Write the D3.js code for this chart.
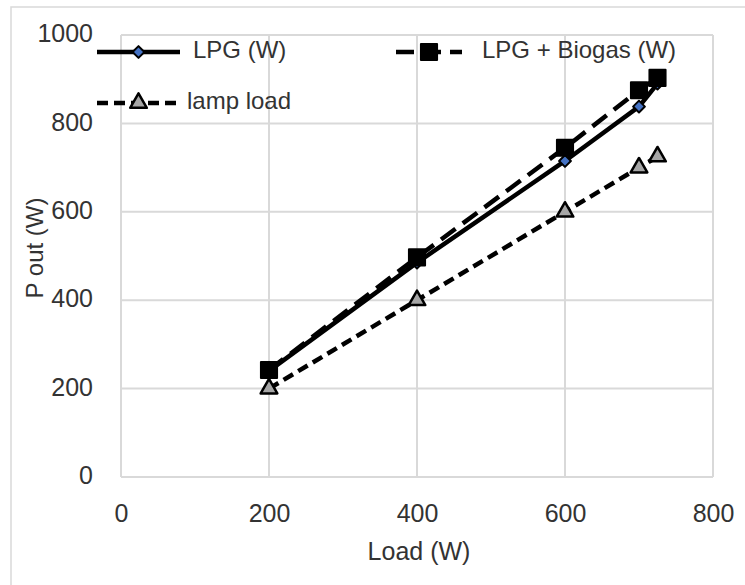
<!DOCTYPE html>
<html>
<head>
<meta charset="utf-8">
<script src="https://cdn.jsdelivr.net/npm/d3@7"></script>
<style>
  html, body { margin: 0; padding: 0; background: #fff; }
  svg { display: block; }
  text { font-family: "Liberation Sans", Arial, sans-serif; fill: #333; }
</style>
</head>
<body>
<svg id="chart" width="745" height="585"></svg>
<script>
// ---- data ----
const loads   = [200, 400, 600, 700, 725];
const lpg     = [240, 485, 715, 838, 890];
const biogas  = [242, 497, 745, 875, 903];
const lamp    = [200, 400, 600, 700, 725];
const seriesNames = ["LPG (W)", "LPG + Biogas (W)", "lamp load"];
const xTicks = [0, 200, 400, 600, 800];
const yTicks = [0, 200, 400, 600, 800, 1000];
const xTitle = "Load (W)";
const yTitle = "P out (W)";

// ---- layout ----
const svg = d3.select("#chart");
const x = d3.scaleLinear().domain([0, 800]).range([121, 713]);
const y = d3.scaleLinear().domain([0, 1000]).range([477, 35]);
const fmt = d3.format("d");

// chart frame (extends beyond the visible area)
svg.append("rect")
  .attr("x", 11).attr("y", 7).attr("width", 800).attr("height", 700)
  .attr("fill", "none").attr("stroke", "#d9d9d9").attr("stroke-width", 1.5);

// gridlines
const grid = svg.append("g");
grid.selectAll("line.v").data(xTicks).enter().append("line")
  .attr("x1", d => x(d)).attr("x2", d => x(d))
  .attr("y1", y(0)).attr("y2", y(1000))
  .attr("stroke", "#d9d9d9").attr("stroke-width", 2);
grid.selectAll("line.h").data(yTicks).enter().append("line")
  .attr("y1", d => y(d)).attr("y2", d => y(d))
  .attr("x1", x(0)).attr("x2", x(800))
  .attr("stroke", "#d9d9d9").attr("stroke-width", 2);

// axes (labels only)
const xAxis = d3.axisBottom(x).tickValues(xTicks).tickFormat(fmt).tickSize(0).tickPadding(0);
const gx = svg.append("g").attr("transform", `translate(0,${y(0)})`).call(xAxis);
gx.select(".domain").remove();
gx.selectAll("text").attr("dy", null).attr("y", 38)
  .attr("dominant-baseline", "middle")
  .style("font-size", "25px").style("font-family", "'Liberation Sans', Arial, sans-serif")
  .attr("fill", "#333");

const yAxis = d3.axisLeft(y).tickValues(yTicks).tickFormat(fmt).tickSize(0).tickPadding(0);
const gy = svg.append("g").attr("transform", `translate(93,0)`).call(yAxis);
gy.select(".domain").remove();
gy.selectAll("text").attr("dy", null).attr("x", 0)
  .attr("dominant-baseline", "middle")
  .style("font-size", "25px").style("font-family", "'Liberation Sans', Arial, sans-serif")
  .attr("fill", "#333");

// axis titles
svg.append("text").attr("x", 419).attr("y", 553)
  .attr("text-anchor", "middle").attr("dominant-baseline", "middle")
  .style("font-size", "25px").text(xTitle);
svg.append("text")
  .attr("transform", "translate(37,248) rotate(-90)")
  .attr("text-anchor", "middle").attr("dominant-baseline", "middle")
  .style("font-size", "24px").text(yTitle);

// ---- series ----
const line = d3.line().x(d => x(d[0])).y(d => y(d[1]));
const sLpg = loads.map((l, i) => [l, lpg[i]]);
const sBio = loads.map((l, i) => [l, biogas[i]]);
const sLamp = loads.map((l, i) => [l, lamp[i]]);

const diamond = { d: d3.symbol().type(d3.symbolSquare).size(70)(), rot: 45 };
const square = { d: d3.symbol().type(d3.symbolSquare).size(260)(), rot: 0 };
const tri = { d: d3.symbol().type(d3.symbolTriangle).size(120)(), rot: 0 };

function drawSeries(data, dash, sym, fill, strokeW) {
  const g = svg.append("g");
  g.append("path").datum(data).attr("d", line)
    .attr("fill", "none").attr("stroke", "#000").attr("stroke-width", 4.5)
    .attr("stroke-dasharray", dash);
  g.selectAll("path.m").data(data).enter().append("path")
    .attr("class", "m")
    .attr("transform", d => `translate(${x(d[0])},${y(d[1])}) rotate(${sym.rot})`)
    .attr("d", sym.d).attr("fill", fill).attr("stroke", "#000")
    .attr("stroke-width", strokeW).attr("stroke-linejoin", "round");
}
drawSeries(sLpg, null, diamond, "#4472c4", 2);
drawSeries(sBio, "18,9", square, "#000", 2);
drawSeries(sLamp, "11,6", tri, "#a6a6a6", 2.5);

// ---- legend ----
const leg = svg.append("g");
function legItem(x1, x2, yy, dash, sym, fill, sw, label, tx) {
  leg.append("line").attr("x1", x1).attr("x2", x2).attr("y1", yy).attr("y2", yy)
    .attr("stroke", "#000").attr("stroke-width", 4.5).attr("stroke-dasharray", dash);
  leg.append("path").attr("transform", `translate(${(x1 + x2) / 2},${yy}) rotate(${sym.rot})`)
    .attr("d", sym.d).attr("fill", fill).attr("stroke", "#000")
    .attr("stroke-width", sw).attr("stroke-linejoin", "round");
  leg.append("text").attr("x", tx).attr("y", yy).attr("dominant-baseline", "middle")
    .style("font-size", "24px").text(label);
}
legItem(97, 180, 52, null, diamond, "#4472c4", 2, seriesNames[0], 193);
legItem(396, 462, 52, "18,9", square, "#000", 2, seriesNames[1], 482);
legItem(97, 180, 103, "11,6", tri, "#a6a6a6", 2.5, seriesNames[2], 187);
</script>
</body>
</html>
